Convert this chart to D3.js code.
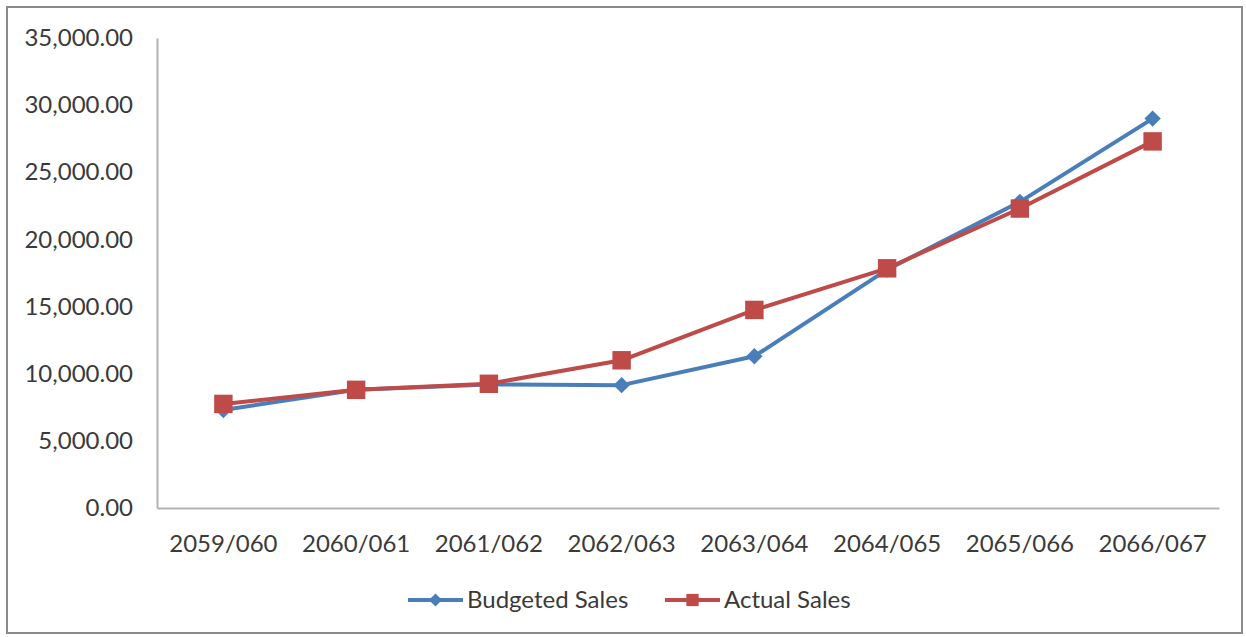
<!DOCTYPE html>
<html>
<head>
<meta charset="utf-8">
<script src="https://cdn.jsdelivr.net/npm/d3@7"></script>
<style>
  html, body { margin: 0; padding: 0; background: #ffffff; }
  svg { display: block; }
  text { font-family: Lato, "Open Sans", "Liberation Sans", sans-serif; fill: #3a3a3a; }
</style>
</head>
<body>
<svg id="chart" width="1246" height="637"></svg>
<script>
// Fiscal years on the category axis
const years = ["2059/060", "2060/061", "2061/062", "2062/063", "2063/064", "2064/065", "2065/066", "2066/067"];
// Sales per fiscal year
const budgetedSales = [7300, 8800, 9200, 9150, 11300, 17750, 22800, 29000];
const actualSales   = [7750, 8800, 9250, 11000, 14750, 17850, 22300, 27300];
// Value axis ticks
const yTicks = [0, 5000, 10000, 15000, 20000, 25000, 30000, 35000];

const seriesNames = ["Budgeted Sales", "Actual Sales"];
const seriesColors = ["#4a7ebb", "#be4b48"];

const svg = d3.select("#chart");

// Outer frame
svg.append("rect")
  .attr("x", 7).attr("y", 7).attr("width", 1235).attr("height", 626)
  .attr("fill", "#ffffff").attr("stroke", "#8a8a8a").attr("stroke-width", 2);

const plot = { left: 157, right: 1219, top: 38, bottom: 508 };

const x = d3.scaleBand().domain(years).range([plot.left, plot.right]);
const y = d3.scaleLinear().domain([0, 35000]).range([plot.bottom, plot.top]);
const cx = d => x(d) + x.bandwidth() / 2;

// Axes
const yAxis = svg.append("g")
  .attr("transform", `translate(${plot.left},0)`)
  .call(d3.axisLeft(y).tickValues(yTicks).tickFormat(d3.format(",.2f")).tickSize(0).tickPadding(24));
yAxis.select(".domain").attr("stroke", "#b3b3b3").attr("stroke-width", 2);
yAxis.selectAll("text").style("font-size", "24px").attr("fill", "#3a3a3a");

const xAxis = svg.append("g")
  .attr("transform", `translate(0,${plot.bottom})`)
  .call(d3.axisBottom(x).tickSize(0).tickPadding(27));
xAxis.select(".domain").attr("stroke", "#b3b3b3").attr("stroke-width", 2);
xAxis.selectAll("text").style("font-size", "24px").attr("fill", "#3a3a3a");

const diamond = d3.symbol().type(d3.symbolDiamond2).size(170);
const square = d3.symbol().type(d3.symbolSquare).size(340);

const line = d3.line().x((d, i) => cx(years[i])).y(d => y(d));

[budgetedSales, actualSales].forEach((vals, s) => {
  const g = svg.append("g");
  g.append("path")
    .datum(vals)
    .attr("d", line)
    .attr("fill", "none")
    .attr("stroke", seriesColors[s])
    .attr("stroke-width", 4)
    .attr("stroke-linejoin", "round");
  g.selectAll("path.marker")
    .data(vals)
    .join("path")
    .attr("class", "marker")
    .attr("d", s === 0 ? diamond : square)
    .attr("transform", (d, i) => `translate(${cx(years[i])},${y(d)})`)
    .attr("fill", seriesColors[s]);
});

// Legend
const legend = [
  { name: seriesNames[0], color: seriesColors[0], sym: d3.symbol().type(d3.symbolDiamond2).size(110), x0: 408 },
  { name: seriesNames[1], color: seriesColors[1], sym: d3.symbol().type(d3.symbolSquare).size(150), x0: 665 }
];
const ly = 600;
legend.forEach(l => {
  svg.append("line")
    .attr("x1", l.x0).attr("x2", l.x0 + 55)
    .attr("y1", ly).attr("y2", ly)
    .attr("stroke", l.color).attr("stroke-width", 4);
  svg.append("path")
    .attr("d", l.sym)
    .attr("transform", `translate(${l.x0 + 27.5},${ly})`)
    .attr("fill", l.color);
  svg.append("text")
    .attr("x", l.x0 + 59).attr("y", ly)
    .attr("dy", "0.35em")
    .style("font-size", "24px")
    .text(l.name);
});
</script>
</body>
</html>
